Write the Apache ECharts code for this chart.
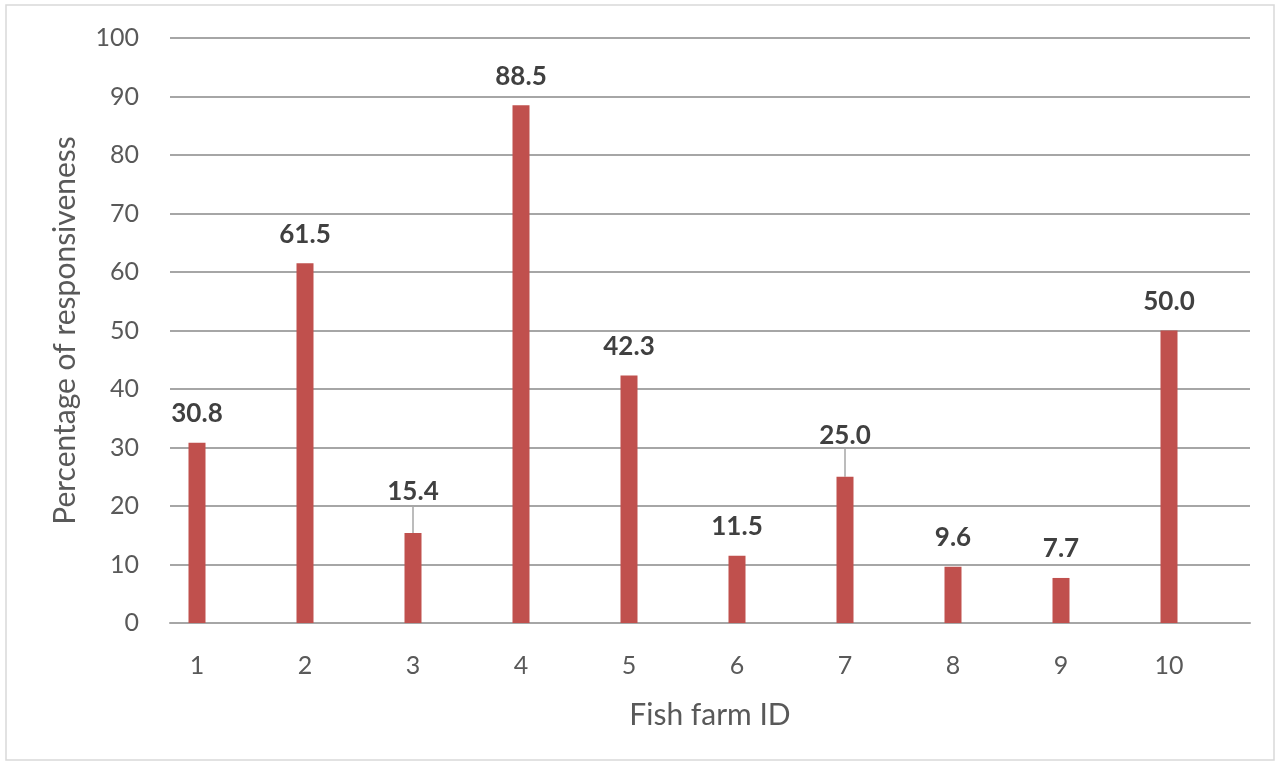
<!DOCTYPE html>
<html>
<head>
<meta charset="utf-8">
<script src="https://cdn.jsdelivr.net/npm/echarts@6/dist/echarts.min.js"></script>
<style>
html,body{margin:0;padding:0;background:#fff;}
#c{width:1276px;height:764px;}
</style>
</head>
<body>
<div id="c"></div>
<script>
const categories = ['1','2','3','4','5','6','7','8','9','10'];
const responsiveness = [30.8, 61.5, 15.4, 88.5, 42.3, 11.5, 25.0, 9.6, 7.7, 50.0];
const yTicks = [0, 10, 20, 30, 40, 50, 60, 70, 80, 90, 100];
const leaderIdx = [2, 6];

const FONT = 'Lato, "Open Sans", sans-serif';
const barData = responsiveness.map((v, i) => leaderIdx.includes(i)
  ? { value: v, labelLine: { show: true } }
  : { value: v, labelLine: { show: false } });

const chart = echarts.init(document.getElementById('c'));
chart.setOption({
  animation: false,
  graphic: [{
    type: 'rect', z: -10,
    shape: { x: 6, y: 5, width: 1268, height: 755 },
    style: { fill: 'none', stroke: '#d9d9d9', lineWidth: 1.5 }
  }],
  grid: [
    { left: 170, right: 26, top: 38, bottom: 141 },
    { left: 143, width: 1080, top: 38, bottom: 141 }
  ],
  xAxis: [
    {
      gridIndex: 0, type: 'category', data: categories,
      axisLine: { show: true, lineStyle: { color: '#a6a6a6', width: 2 } },
      axisTick: { show: false }, axisLabel: { show: false },
      name: 'Fish farm ID', nameLocation: 'middle', nameGap: 77,
      nameTextStyle: { color: '#595959', fontSize: 30, fontFamily: FONT }
    },
    {
      gridIndex: 1, type: 'category', data: categories,
      axisLine: { show: false }, axisTick: { show: false },
      axisLabel: { color: '#595959', fontSize: 25, fontFamily: FONT, margin: 30 }
    }
  ],
  yAxis: [
    {
      gridIndex: 0, type: 'value', min: yTicks[0], max: yTicks[yTicks.length - 1], interval: 10,
      axisLine: { show: false }, axisTick: { show: false },
      splitLine: { lineStyle: { color: '#a6a6a6', width: 2 } },
      axisLabel: { color: '#595959', fontSize: 25, fontFamily: FONT, margin: 31 },
      name: 'Percentage of responsiveness', nameLocation: 'middle', nameGap: 90,
      nameTextStyle: { color: '#595959', fontSize: 30, fontFamily: FONT }
    },
    {
      gridIndex: 1, type: 'value', min: 0, max: 100, interval: 10,
      show: false, splitLine: { show: false }
    }
  ],
  series: [{
    type: 'bar', xAxisIndex: 1, yAxisIndex: 1,
    data: barData, barWidth: 17,
    itemStyle: { color: '#C0504D' },
    label: {
      show: true, position: 'top', distance: 16,
      color: '#404040', fontSize: 26, fontWeight: 'bold', fontFamily: FONT,
      formatter: p => p.value.toFixed(1)
    },
    labelLine: { show: false, lineStyle: { color: '#a6a6a6', width: 1.5 } },
    labelLayout: p => leaderIdx.includes(p.dataIndex) ? { dy: -12 } : {}
  }]
});
</script>
</body>
</html>
